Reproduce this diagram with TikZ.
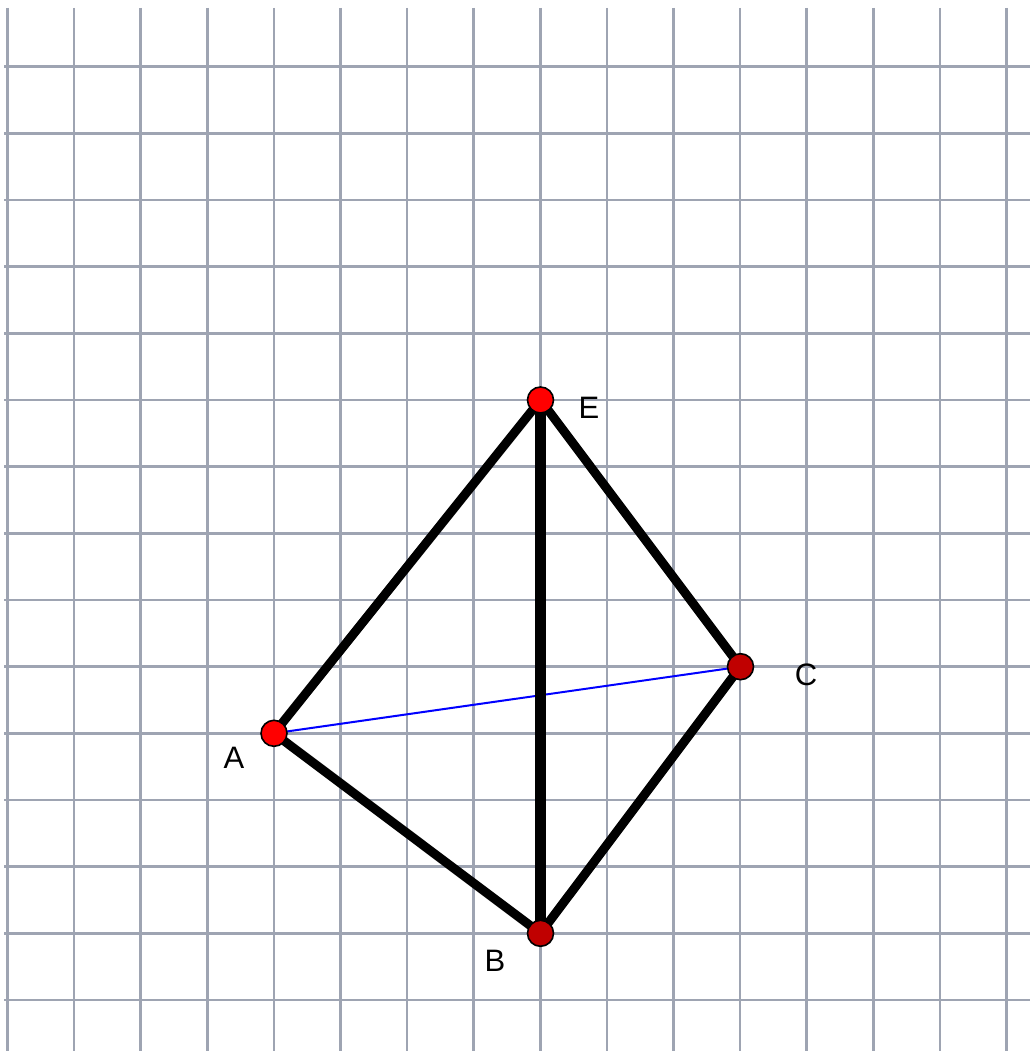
\documentclass[tikz,border=0pt]{standalone}
\usepackage{fontspec}
\setmainfont{Liberation Sans}
\definecolor{gridc}{HTML}{9EA4B2}
\definecolor{darkpt}{HTML}{C00000}
\begin{document}
\begin{tikzpicture}[x=1pt,y=-1pt,
  gridline/.style={draw=gridc,line width=2.6pt},
  edge/.style={draw=black,line width=9pt},
  thinedge/.style={draw=blue,line width=2pt},
  pt/.style={circle,draw=black,line width=1.6pt,minimum size=26pt,inner sep=0pt},
  lbl/.style={font=\fontsize{31}{31}\selectfont,text=black,inner sep=0pt}]
\useasboundingbox[fill=white] (0,0) rectangle (1030,1051);
\foreach \k in {0,...,15} \draw[gridline] ({7.5+66.6*\k},8) -- ({7.5+66.6*\k},1051);
\foreach \k in {1,...,15} \draw[gridline] (4,{66.67*\k}) -- (1030,{66.67*\k});
\coordinate (E) at (540.5,400);
\coordinate (C) at (740.5,666.7);
\coordinate (A) at (274,733.3);
\coordinate (B) at (540.5,933.3);
\draw[thinedge] (A) -- (C);
\draw[edge] (A) -- (E);
\draw[edge] (E) -- (C);
\draw[edge] (C) -- (B);
\draw[edge] (B) -- (A);
\draw[edge,line width=10.5pt] (E) -- (B);
\node[pt,fill=red] (pE) at (E) {};
\node[pt,fill=darkpt] (pC) at (C) {};
\node[pt,fill=red] (pA) at (A) {};
\node[pt,fill=darkpt] (pB) at (B) {};
\node[lbl] (tE) at (589,408) {E};
\node[lbl] (tC) at (806,675) {C};
\node[lbl] (tA) at (234,758) {A};
\node[lbl] (tB) at (495,961) {B};
\end{tikzpicture}
\end{document}
